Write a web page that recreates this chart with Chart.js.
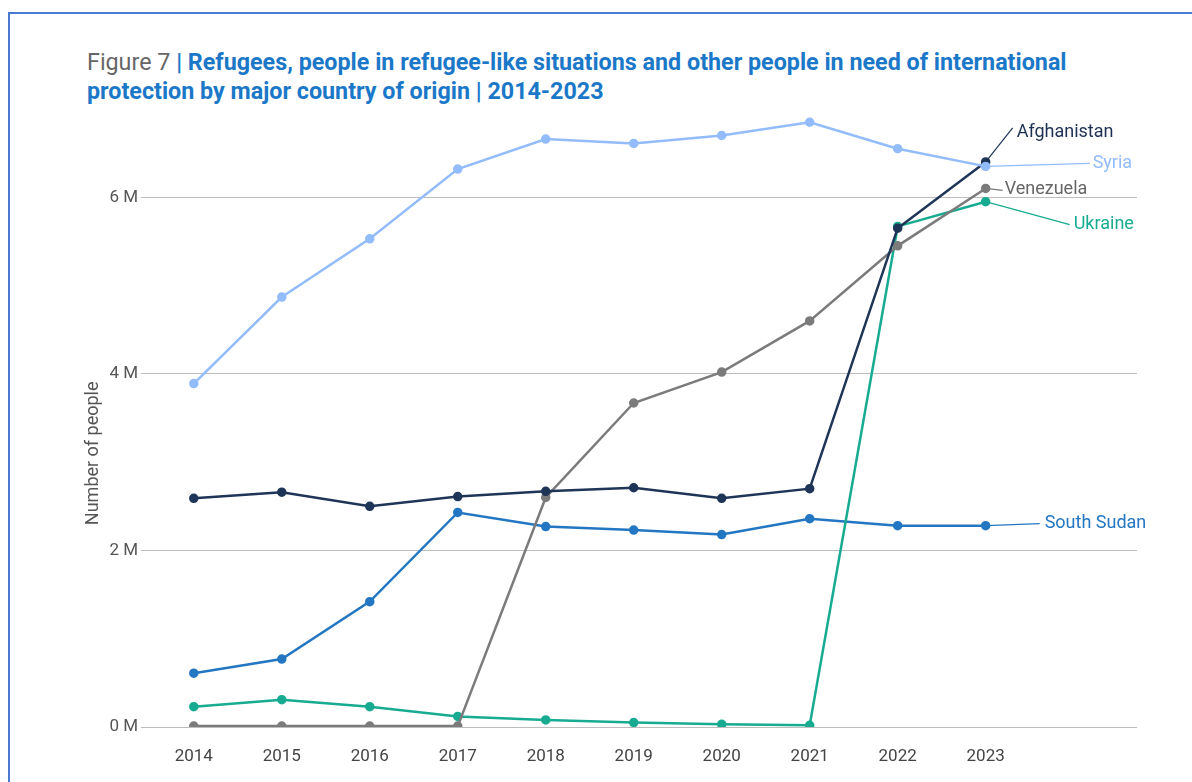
<!DOCTYPE html>
<html>
<head>
<meta charset="utf-8">
<script src="https://cdn.jsdelivr.net/npm/chart.js@4"></script>
<style>
  html, body { margin: 0; padding: 0; background: #fff; }
  body { width: 1192px; height: 782px; position: relative; overflow: hidden; font-family: Roboto, sans-serif; }
  #frame { position: absolute; left: 8px; top: 12px; right: -4px; bottom: -4px; border: 2px solid #4a7bd1; }
  #title { position: absolute; left: 87px; top: 48px; font-size: 23.3px; line-height: 29px; color: #1b78c8; font-weight: 700; white-space: nowrap; }
  #title .fig { color: #666; font-weight: 400; }
  #wrap { position: absolute; left: 0; top: 0; width: 1192px; height: 782px; }
</style>
</head>
<body>
<div id="frame"></div>
<div id="title"><span class="fig">Figure 7 </span>| Refugees, people in refugee-like situations and other people in need of international<br>protection by major country of origin | 2014-2023</div>
<div id="wrap"><canvas id="refugeeChart"></canvas></div>
<script>
const years = [2014, 2015, 2016, 2017, 2018, 2019, 2020, 2021, 2022, 2023];
const yTicks = [0, 2000000, 4000000, 6000000];

// values in millions
const syria = [3.89, 4.87, 5.53, 6.32, 6.66, 6.61, 6.70, 6.85, 6.55, 6.35];
const afghanistan = [2.59, 2.66, 2.50, 2.61, 2.67, 2.71, 2.59, 2.70, 5.65, 6.40];
const venezuela = [0.01, 0.01, 0.01, 0.01, 2.60, 3.67, 4.02, 4.60, 5.45, 6.10];
const ukraine = [0.23, 0.31, 0.23, 0.12, 0.08, 0.05, 0.03, 0.02, 5.67, 5.95];
const southSudan = [0.61, 0.77, 1.42, 2.43, 2.27, 2.23, 2.18, 2.36, 2.28, 2.28];

const seriesNames = ['Syria', 'Afghanistan', 'Venezuela', 'Ukraine', 'South Sudan'];
const seriesValues = [syria, afghanistan, venezuela, ukraine, southSudan];
const seriesColors = ['#92bcfb', '#1e3557', '#7b7b7b', '#17ab91', '#2377c2'];
const labelColors = ['#92bcfb', '#1e3152', '#666666', '#17ab91', '#2377c2'];

// leader line end (offset from last point) and text offset from that end, in px
const leaders = [
  { dx: 104, dy: -3, tx: 3, ty: 0 },
  { dx: 27, dy: -34, tx: 4, ty: 5 },
  { dx: 17, dy: 2, tx: 2, ty: -1 },
  { dx: 84, dy: 23, tx: 4, ty: 0 },
  { dx: 54, dy: -2, tx: 5, ty: 0 }
];

const datasets = seriesNames.map((name, i) => ({
  label: name,
  data: years.map((y, j) => ({ x: y, y: seriesValues[i][j] * 1000000 })),
  borderColor: seriesColors[i],
  backgroundColor: seriesColors[i],
  borderWidth: 2.5,
  pointRadius: 3.5,
  pointHoverRadius: 3.5,
  tension: 0,
  fill: false,
  order: i
}));

// series names at the line ends, with thin leader lines
const endLabels = {
  id: 'endLabels',
  afterDatasetsDraw(chart) {
    const ctx = chart.ctx;
    ctx.save();
    ctx.font = '18px Roboto, sans-serif';
    ctx.textBaseline = 'middle';
    ctx.textAlign = 'left';
    chart.data.datasets.forEach((ds, i) => {
      const meta = chart.getDatasetMeta(i);
      const last = meta.data[meta.data.length - 1];
      const l = leaders[i];
      const ex = last.x + l.dx, ey = last.y + l.dy;
      ctx.strokeStyle = seriesColors[i];
      ctx.lineWidth = 1.2;
      ctx.beginPath();
      ctx.moveTo(last.x, last.y);
      ctx.lineTo(ex, ey);
      ctx.stroke();
      ctx.fillStyle = labelColors[i];
      ctx.fillText(ds.label, ex + l.tx, ey + l.ty);
    });
    ctx.restore();
  }
};

// y axis title, sits a bit below the middle of the plot
const yTitle = {
  id: 'yTitle',
  afterDraw(chart) {
    const ctx = chart.ctx;
    const y = chart.scales.y.getPixelForValue(3100000);
    ctx.save();
    ctx.translate(93, y);
    ctx.rotate(-Math.PI / 2);
    ctx.font = '18px Roboto, sans-serif';
    ctx.fillStyle = '#555';
    ctx.textAlign = 'center';
    ctx.textBaseline = 'middle';
    ctx.fillText('Number of people', 0, 0);
    ctx.restore();
  }
};

const ctx = document.getElementById('refugeeChart').getContext('2d');
new Chart(ctx, {
  type: 'line',
  data: { datasets: datasets },
  plugins: [endLabels, yTitle],
  options: {
    responsive: true,
    maintainAspectRatio: false,
    animation: false,
    layout: { padding: { left: 80, right: 55, top: 109, bottom: 0 } },
    plugins: { legend: { display: false }, tooltip: { enabled: false } },
    scales: {
      x: {
        type: 'linear',
        min: 2013.4,
        max: 2024.72,
        afterBuildTicks: (scale) => { scale.ticks = years.map(v => ({ value: v })); },
        afterFit: (scale) => { scale.height = 55; },
        grid: { display: false },
        border: { display: false },
        ticks: {
          color: '#444',
          font: { size: 17, family: 'Roboto' },
          padding: 12,
          maxRotation: 0,
          callback: (v) => String(v)
        }
      },
      y: {
        min: 0,
        max: 7000000,
        afterBuildTicks: (scale) => { scale.ticks = yTicks.map(v => ({ value: v })); },
        afterFit: (scale) => { scale.width = 61; },
        grid: { color: '#bdbdbd', lineWidth: 1, drawTicks: false },
        border: { display: false },
        ticks: {
          color: '#555',
          font: { size: 17, family: 'Roboto' },
          padding: 3,
          callback: (v) => (v / 1000000) + ' M'
        }
      }
    }
  }
});
</script>
</body>
</html>
